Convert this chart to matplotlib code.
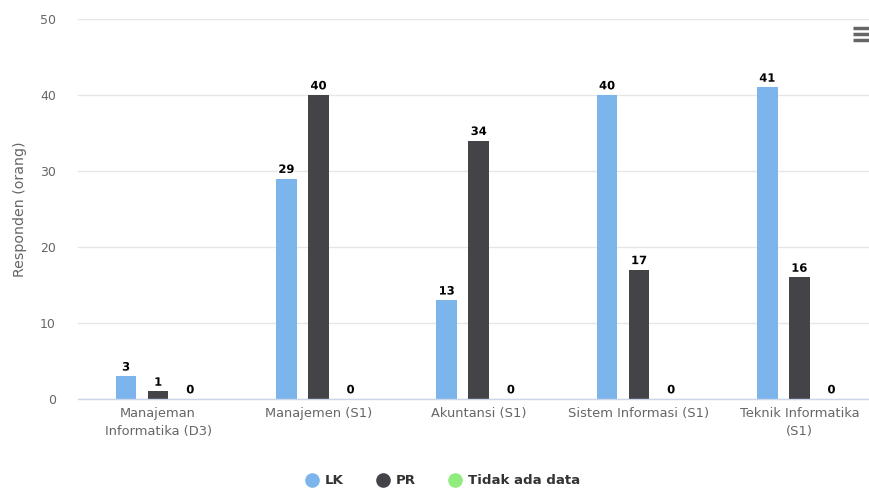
import matplotlib
matplotlib.use("Agg")
import matplotlib.pyplot as plt
import matplotlib.patheffects as pe
from matplotlib.lines import Line2D
import numpy as np

categories = ["Manajeman\nInformatika (D3)", "Manajemen (S1)", "Akuntansi (S1)",
              "Sistem Informasi (S1)", "Teknik Informatika\n(S1)"]
series_names = ["LK", "PR", "Tidak ada data"]
lk = [3, 29, 13, 40, 41]
pr = [1, 40, 34, 17, 16]
tidak = [0, 0, 0, 0, 0]
colors = ["#7cb5ec", "#434348", "#90ed7d"]
y_ticks = [0, 10, 20, 30, 40, 50]

plt.rcParams['font.family'] = ['DejaVu Sans']
fig = plt.figure(figsize=(8.7, 4.91), dpi=100)
left_px, cat_px = 78.0, 160.3
ax = fig.add_axes([left_px/870, 1-399/491, 5*cat_px/870, (399-19)/491])

x = np.arange(len(categories))
width = 0.128
offsets = [-0.2, 0, 0.2]
for vals, off, col in zip([lk, pr, tidak], offsets, colors):
    bars = ax.bar(x + off, vals, width=width, color=col, zorder=3)
    for b, v in zip(bars, vals):
        ax.text(b.get_x() + b.get_width()/2, v + 0.35, str(v), ha='center', va='bottom',
                fontsize=8.3, fontweight='bold', color='black', zorder=4,
                path_effects=[pe.withStroke(linewidth=2, foreground='white')])

ax.set_xlim(-0.5, len(categories) - 0.5)
ax.set_ylim(0, 50)
ax.set_yticks(y_ticks)
ax.set_xticks(x)
ax.set_xticklabels(categories, fontsize=9.4, color='#666666', linespacing=1.45)
ax.tick_params(axis='y', length=0, labelsize=9, labelcolor='#666666', pad=16)
ax.tick_params(axis='x', length=0, pad=6)
ax.grid(axis='y', color='#e6e6e6', linewidth=1, zorder=0)
for s in ['top', 'right', 'left']:
    ax.spines[s].set_visible(False)
ax.spines['bottom'].set_color('#ccd6eb')
ax.spines['bottom'].set_linewidth(1)
ax.spines['bottom'].set_zorder(5)
ax.set_ylabel("Responden (orang)", fontsize=10.2, color='#666666', va='center')
ax.yaxis.set_label_coords(-(78-20)/(5*cat_px), 0.5)

handles = [Line2D([0], [0], marker='o', linestyle='none', markersize=9.5,
                  markerfacecolor=c, markeredgecolor=c) for c in colors]
leg = fig.legend(handles, series_names, loc='center', bbox_to_anchor=(442/870, 1-481/491),
                 ncol=3, frameon=False, prop={'size': 9.6, 'weight': 'bold'},
                 handletextpad=0.4, columnspacing=2.3, handlelength=1.2)
for t in leg.get_texts():
    t.set_color('#333333')

# menu icon
for yy in [28, 34, 40]:
    fig.add_artist(Line2D([853/870, 869/870], [1-yy/491, 1-yy/491], color='#666666',
                          linewidth=2.5, solid_capstyle='butt'))

fig.savefig("out.png", dpi=100)
